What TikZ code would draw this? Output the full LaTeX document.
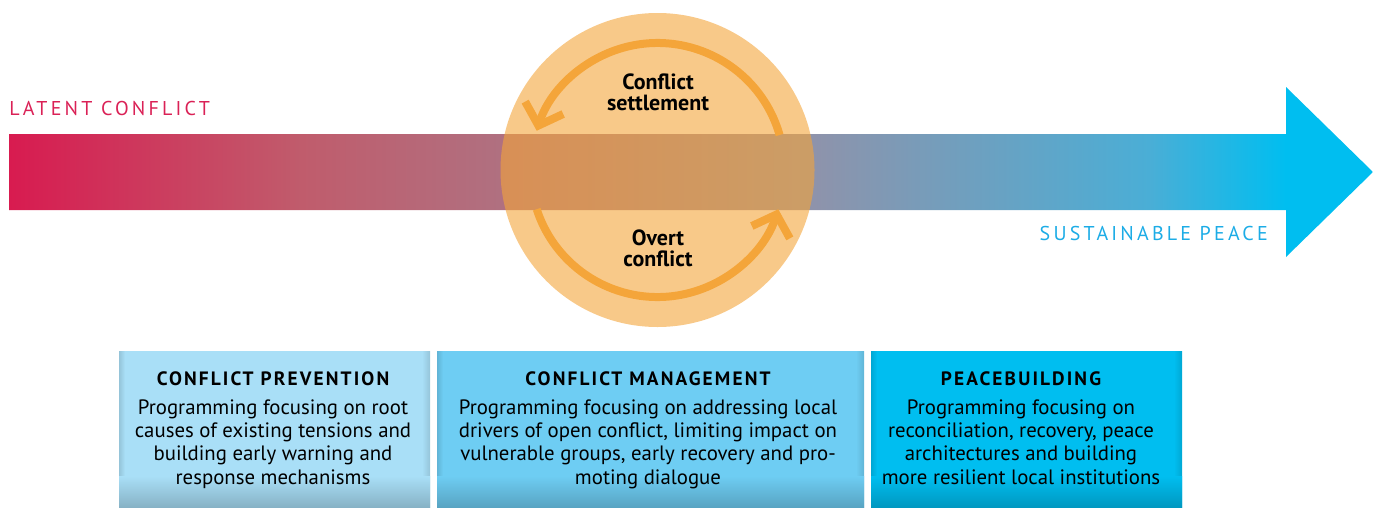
\documentclass[tikz,border=0pt]{standalone}
\usepackage{fontspec}
\setmainfont{PT Sans}
\newfontfamily\widefont[LetterSpace=16]{PT Sans}
\newfontfamily\headfont[LetterSpace=11]{PT Sans}
\usetikzlibrary{arrows.meta}

\definecolor{latent}{RGB}{216,27,80}
\definecolor{barA}{RGB}{192,92,108}
\definecolor{barB}{RGB}{176,112,128}
\definecolor{barC}{RGB}{142,147,171}
\definecolor{barD}{RGB}{74,174,214}
\definecolor{peace}{RGB}{0,190,240}
\definecolor{latenttext}{RGB}{218,33,86}
\definecolor{peacetext}{RGB}{28,172,230}
\definecolor{ringorange}{RGB}{244,165,58}
\definecolor{prevblue}{RGB}{169,223,247}
\definecolor{mgmtblue}{RGB}{110,205,243}
\definecolor{buildblue}{RGB}{0,190,240}

\pgfdeclarehorizontalshading{conflictbar}{100bp}{color(0bp)=(latent); color(25bp)=(latent); color(35.7bp)=(barA); color(43bp)=(barB); color(54.5bp)=(barC); color(66.8bp)=(barD); color(71.8bp)=(peace); color(100bp)=(peace)}

\tikzset{
  ring/.style={draw=ringorange, line width=6pt, -{Straight Barb[length=14pt,width=30pt]}},
  circletext/.style={anchor=base, align=center, inner sep=0pt, font=\fontsize{16.5}{15.75}\selectfont\bfseries},
  headtext/.style={anchor=base, inner sep=0pt, font=\fontsize{14.5}{16}\selectfont\headfont\bfseries},
  bodytext/.style={anchor=base, align=center, inner sep=0pt, font=\fontsize{15.6}{17.5}\selectfont},
}

\begin{document}
\begin{tikzpicture}[x=0.75pt,y=0.75pt,yscale=-1,xscale=1]
\useasboundingbox (0,0) rectangle (1373,507);

%Shape: Arrow
\shade[shading=conflictbar] (9,134) -- (1286,134) -- (1286,87) -- (1373,172) -- (1286,257) -- (1286,210) -- (9,210) -- cycle ;

%Shape: Circle
\coordinate (hub) at (657.5,170);
\fill[ringorange, fill opacity=0.6] (hub) circle (157) ;

%Curve Lines
\draw[ring] (hub) ++(-16:127) arc[start angle=-16, end angle=-162, radius=127] ;
\draw[ring] (hub) ++(162:127) arc[start angle=162, end angle=18, radius=127] ;

% Text Node
\node (settle) [circletext] at (658,110) {Conflict\\settlement};
% Text Node
\node (overt) [circletext] at (658,266) {Overt\\conflict};
% Text Node
\node (latent) [anchor=base west, inner sep=0pt, text=latenttext, font=\fontsize{15}{18}\selectfont\widefont] at (9,115) {LATENT CONFLICT};
% Text Node
\node (peace) [anchor=base east, inner sep=0pt, text=peacetext, font=\fontsize{15}{18}\selectfont\widefont] at (1268,240) {SUSTAINABLE PEACE};

%Shape: Rectangle
\fill[prevblue] (119,351) rectangle (430,507) ;
\fill[left color=prevblue!88!black, right color=prevblue] (119,351) rectangle (125,507) ;
\fill[left color=prevblue, right color=prevblue!88!black] (422,351) rectangle (430,507) ;
\fill[top color=prevblue, bottom color=prevblue!80!black] (119,476) rectangle (430,507) ;
%Shape: Rectangle
\fill[mgmtblue] (437,351) rectangle (864,507) ;
\fill[left color=mgmtblue!88!black, right color=mgmtblue] (437,351) rectangle (443,507) ;
\fill[left color=mgmtblue, right color=mgmtblue!88!black] (856,351) rectangle (864,507) ;
\fill[top color=mgmtblue, bottom color=mgmtblue!80!black] (437,476) rectangle (864,507) ;
%Shape: Rectangle
\fill[buildblue] (871,351) rectangle (1182,507) ;
\fill[left color=buildblue!88!black, right color=buildblue] (871,351) rectangle (877,507) ;
\fill[left color=buildblue, right color=buildblue!88!black] (1174,351) rectangle (1182,507) ;
\fill[top color=buildblue, bottom color=buildblue!80!black] (871,476) rectangle (1182,507) ;

% Text Node
\node (prevhead) [headtext] at (273,385) {CONFLICT PREVENTION};
% Text Node
\node (prevbody) [bodytext] at (273,484) {Programming focusing on root\\causes of existing tensions and\\building early warning and\\response mechanisms};
% Text Node
\node (mgmthead) [headtext] at (648,385) {CONFLICT MANAGEMENT};
% Text Node
\node (mgmtbody) [bodytext] at (648,484) {Programming focusing on addressing local\\drivers of open conflict, limiting impact on\\vulnerable groups, early recovery and pro-\\moting dialogue};
% Text Node
\node (buildhead) [headtext] at (1021,385) {PEACEBUILDING};
% Text Node
\node (buildbody) [bodytext] at (1021,484) {Programming focusing on\\reconciliation, recovery, peace\\architectures and building\\more resilient local institutions};
\end{tikzpicture}
\end{document}
